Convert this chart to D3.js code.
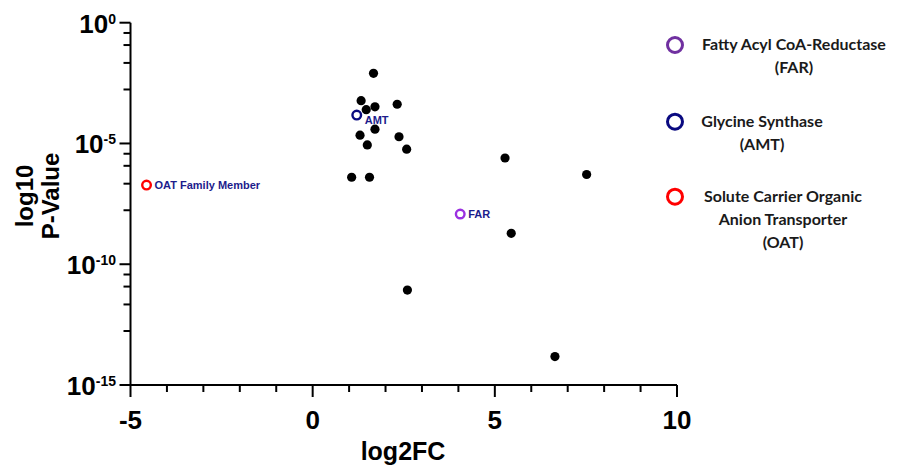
<!DOCTYPE html>
<html>
<head>
<meta charset="utf-8">
<script src="https://cdn.jsdelivr.net/npm/d3@7"></script>
<style>
  body { margin: 0; background: #fff; }
  svg text { font-family: "Liberation Sans", Arial, sans-serif; font-weight: bold; }
</style>
</head>
<body>
<script>
/* volcano-ish scatter: log2FC vs p-value */
var log2fc = [1.67, 1.33, 1.71, 2.32, 1.47, 1.71, 1.30, 2.37, 1.50, 2.58, 1.07, 1.56, 5.28, 7.52, 5.45, 2.60, 6.65];
var pvals  = [8.0e-3, 5.9e-4, 3.3e-4, 4.2e-4, 2.5e-4, 3.9e-5, 2.2e-5, 1.9e-5, 8.7e-6, 5.8e-6, 4.0e-7, 4.0e-7, 2.5e-6, 5.2e-7, 1.9e-9, 8.5e-12, 1.5e-14];

// highlighted genes
var hiNames  = ["AMT", "FAR", "OAT Family Member"];
var hiFC     = [1.21, 4.05, -4.56];
var hiP      = [1.5e-4, 1.2e-8, 1.9e-7];
var hiColors = ["#0a0a80", "#9b30e0", "#ff0000"];

var xTicks = [-5, 0, 5, 10];
var yExps = [0, -5, -10, -15];
// minor ticks inside each 5-decade step (fraction of the step)
var minorFrac = [0.447, 0.667, 0.815, 0.915];

var legendColors = ["#7030a0", "#0a0a80", "#ff0000"];
var legendLines = [
  ["Fatty Acyl CoA-Reductase", "(FAR)"],
  ["Glycine Synthase", "(AMT)"],
  ["Solute Carrier Organic", "Anion Transporter", "(OAT)"]
];

var svg = d3.select("body").append("svg")
    .attr("width", 897)
    .attr("height", 468);

var x = d3.scaleLinear().domain([-5, 10]).range([130.5, 677]);
var y = d3.scaleLog().domain([1, 1e-15]).range([22.7, 385]);

var x0 = x(-5), yb = y(1e-15);

// axes lines
svg.append("line").attr("x1", x0).attr("x2", x0).attr("y1", y(1)).attr("y2", yb)
    .attr("stroke", "black").attr("stroke-width", 2);
svg.append("line").attr("x1", x0).attr("x2", x(10)).attr("y1", yb).attr("y2", yb)
    .attr("stroke", "black").attr("stroke-width", 2);

// y major ticks + labels
yExps.forEach(function(e) {
  var yy = y(Math.pow(10, e));
  svg.append("line").attr("x1", x0 - 11).attr("x2", x0).attr("y1", yy).attr("y2", yy)
      .attr("stroke", "black").attr("stroke-width", 2);
  var t = svg.append("text").attr("x", 116).attr("y", yy + 10)
      .attr("text-anchor", "end").style("font-size", "26px");
  t.append("tspan").text("10");
  t.append("tspan").attr("dy", -9).style("font-size", "14px").text(e);
});

// y minor ticks
for (var i = 0; i < yExps.length - 1; i++) {
  minorFrac.forEach(function(f) {
    var e = yExps[i + 1] + 5 * f;
    var yy = y(Math.pow(10, e));
    svg.append("line").attr("x1", x0 - 7).attr("x2", x0).attr("y1", yy).attr("y2", yy)
        .attr("stroke", "black").attr("stroke-width", 2);
  });
}

// x ticks
d3.range(-5, 11).forEach(function(v) {
  var major = xTicks.indexOf(v) >= 0;
  svg.append("line").attr("x1", x(v)).attr("x2", x(v)).attr("y1", yb).attr("y2", yb + (major ? 12 : 7))
      .attr("stroke", "black").attr("stroke-width", 2);
});
svg.selectAll(".xl").data(xTicks).enter().append("text")
    .attr("x", function(d) { return x(d); })
    .attr("y", 429)
    .attr("text-anchor", "middle")
    .style("font-size", "26px")
    .text(function(d) { return d; });

// axis titles
svg.append("text").attr("x", 403).attr("y", 460).attr("text-anchor", "middle")
    .style("font-size", "25px").text("log2FC");
var yt = svg.append("text").attr("transform", "translate(33,196) rotate(-90)")
    .attr("text-anchor", "middle").style("font-size", "24px");
yt.append("tspan").attr("x", 0).attr("dy", 0).text("log10");
yt.append("tspan").attr("x", 0).attr("dy", 26).text("P-Value");

// black points
svg.selectAll(".pt").data(log2fc).enter().append("circle")
    .attr("cx", function(d) { return x(d); })
    .attr("cy", function(d, i) { return y(pvals[i]); })
    .attr("r", 4.6)
    .attr("fill", "black");

// highlighted open circles
svg.selectAll(".hi").data(hiFC).enter().append("circle")
    .attr("cx", function(d) { return x(d); })
    .attr("cy", function(d, i) { return y(hiP[i]); })
    .attr("r", 4.3)
    .attr("fill", "none")
    .attr("stroke", function(d, i) { return hiColors[i]; })
    .attr("stroke-width", 2.4);
svg.selectAll(".hl").data(hiFC).enter().append("text")
    .attr("x", function(d) { return x(d) + 8; })
    .attr("y", function(d, i) { return y(hiP[i]) + (i == 0 ? 9 : 4); })
    .style("font-size", "11px")
    .attr("fill", "#1c1c8c")
    .text(function(d, i) { return hiNames[i]; });

// legend
var legY = [45, 121.7, 196.7];
var legCx = [794, 762, 783];
legendLines.forEach(function(lines, i) {
  svg.append("circle").attr("cx", 675).attr("cy", legY[i]).attr("r", 7.5)
      .attr("fill", "none").attr("stroke", legendColors[i]).attr("stroke-width", 3);
  lines.forEach(function(s, j) {
    svg.append("text").attr("x", legCx[i]).attr("y", legY[i] + 5 + j * 23)
        .attr("text-anchor", "middle")
        .style("font-family", "Lato, 'Open Sans', sans-serif")
        .style("font-size", "16px")
        .attr("fill", "#1a1a1a")
        .text(s);
  });
});
</script>
</body>
</html>
